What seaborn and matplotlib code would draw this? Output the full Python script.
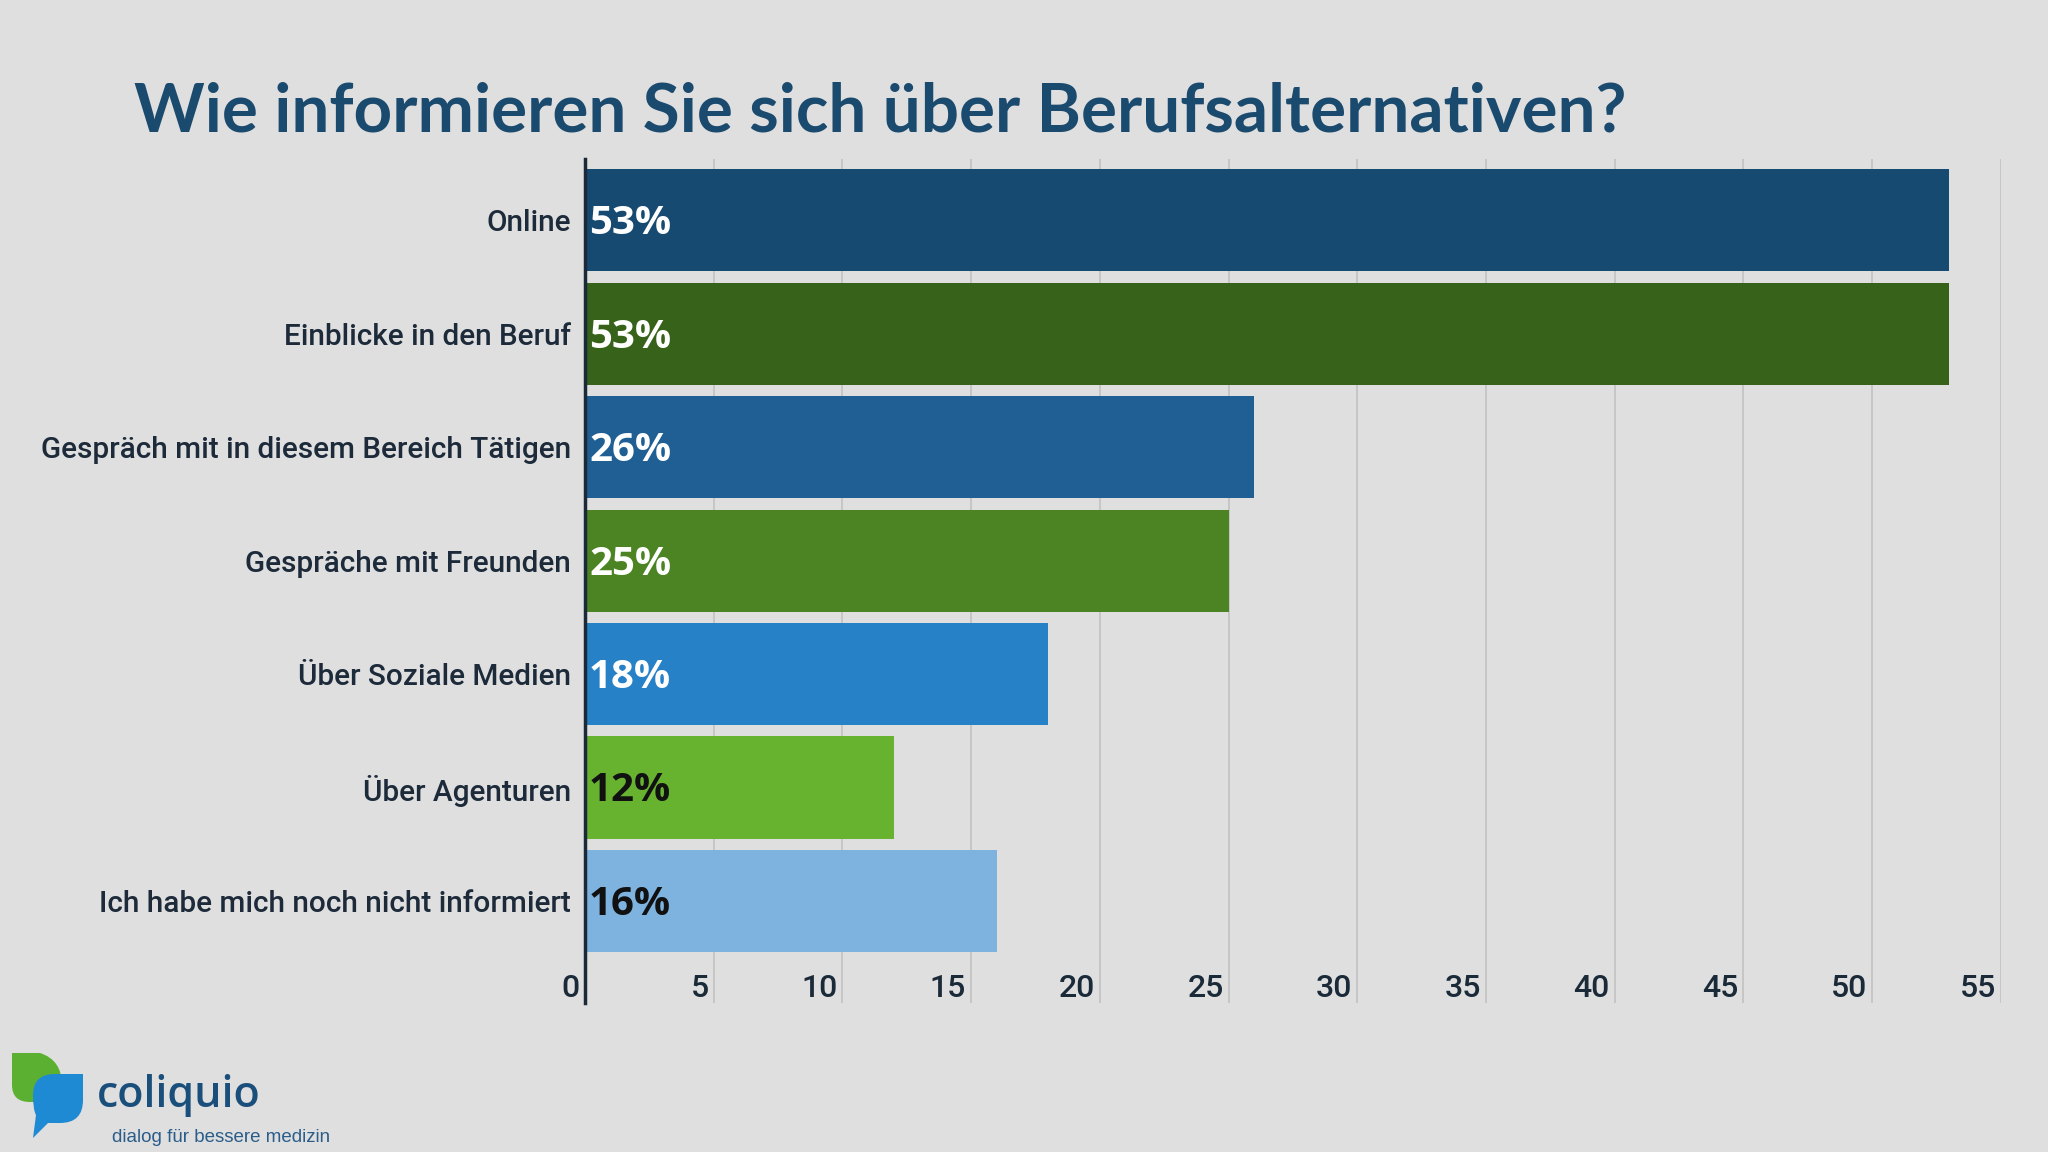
import matplotlib
matplotlib.use("Agg")
import matplotlib.pyplot as plt
import matplotlib.transforms as mtransforms
from matplotlib.patches import PathPatch
from matplotlib.path import Path
import seaborn as sns

# daten
kategorien = ["Online", "Einblicke in den Beruf", "Gespräch mit in diesem Bereich Tätigen",
              "Gespräche mit Freunden", "Über Soziale Medien", "Über Agenturen",
              "Ich habe mich noch nicht informiert"]
werte = [53, 53, 26, 25, 18, 12, 16]
farben = ["#174a70", "#376219", "#1f5f93", "#4c8424", "#2681c6", "#67b330", "#7db3de"]
label_farben = ["white", "white", "white", "white", "white", "#111111", "#111111"]
xticks = [0, 5, 10, 15, 20, 25, 30, 35, 40, 45, 50, 55]
titel = "Wie informieren Sie sich über Berufsalternativen?"

bg = "#dfdfdf"
sns.set_theme(style="white")
plt.rcParams["font.family"] = ["Roboto", "DejaVu Sans"]

fig = plt.figure(figsize=(20.48, 11.52), dpi=100, facecolor=bg)
ax = fig.add_axes([0.2856, 0.1293, 0.6914, 0.7326])
ax.set_facecolor(bg)

sns.barplot(x=werte, y=kategorien, hue=kategorien, palette=farben, legend=False,
            width=0.9, saturation=1, linewidth=0, edgecolor="none", ax=ax, zorder=2)

ax.set_xlim(0, 55)
ax.set_ylim(6.9, -0.54)
ax.set_xticks(xticks)
ax.set_xticklabels([str(t) for t in xticks])
ax.grid(axis="x", color="#c6c6c6", linewidth=1.4, zorder=0)
ax.set_axisbelow(True)
for s in ["top", "right", "bottom"]:
    ax.spines[s].set_visible(False)
ax.spines["left"].set_color("#1b2a38")
ax.spines["left"].set_linewidth(2.5)
ax.set_xlabel("")
ax.set_ylabel("")

ax.tick_params(axis="y", length=0, pad=10, labelsize=21.4, labelcolor="#1c2a3a")
ax.tick_params(axis="x", length=0, pad=-21, labelsize=23, labelcolor="#1b2a38")
for lab in ax.get_yticklabels():
    lab.set_fontweight("medium")
shift = mtransforms.ScaledTranslation(-0.05, 0, fig.dpi_scale_trans)
for lab in ax.get_xticklabels():
    lab.set_fontweight("medium")
    lab.set_ha("right")
    lab.set_transform(lab.get_transform() + shift)

# prozentwerte
for i, (w, c) in enumerate(zip(werte, label_farben)):
    ax.annotate(f"{w}%", xy=(0, i), xytext=(3, -2.5), textcoords="offset points",
                ha="left", va="center", fontsize=29, fontweight="bold",
                color=c, family=["Open Sans", "DejaVu Sans"], zorder=3)

fig.text(134 / 2048, 1 - 131 / 1152, titel, ha="left", va="baseline",
         fontsize=48.5, fontweight="bold", color="#1a4a6e", family=["Lato", "DejaVu Sans"])

# logo
def px(x, y):
    return (x / 2048, 1 - y / 1152)

gruen = Path([px(12, 1053), px(40, 1053), px(62, 1060), px(62, 1085), px(62, 1102),
              px(42, 1102), px(30, 1102), px(12, 1102), px(12, 1085), px(12, 1070), px(12, 1053)],
             [Path.MOVETO, Path.LINETO, Path.CURVE3, Path.CURVE3, Path.CURVE3, Path.CURVE3,
              Path.LINETO, Path.CURVE3, Path.CURVE3, Path.LINETO, Path.CLOSEPOLY])
fig.patches.append(PathPatch(gruen, facecolor="#5cb031", edgecolor="none", transform=fig.transFigure))
blau = Path([px(83, 1074), px(83, 1100), px(83, 1123), px(60, 1123), px(48, 1123),
             px(33, 1138), px(36, 1115), px(33, 1110), px(33, 1095), px(33, 1074),
             px(55, 1074), px(83, 1074)],
            [Path.MOVETO, Path.LINETO, Path.CURVE3, Path.CURVE3, Path.LINETO,
             Path.LINETO, Path.LINETO, Path.CURVE3, Path.CURVE3, Path.CURVE3, Path.CURVE3,
             Path.CLOSEPOLY])
fig.patches.append(PathPatch(blau, facecolor="#1f8ad4", edgecolor="none", transform=fig.transFigure))
fig.text(*px(97, 1107), "coliquio", ha="left", va="baseline", fontsize=31,
         fontweight="semibold", color="#1a4f7b", family=["Open Sans", "DejaVu Sans"])
fig.text(*px(112, 1142), "dialog für bessere medizin", ha="left", va="baseline", fontsize=13.5,
         color="#2a5d8a", family=["Liberation Sans", "DejaVu Sans"])

fig.savefig("out.png", dpi=100, facecolor=bg)
